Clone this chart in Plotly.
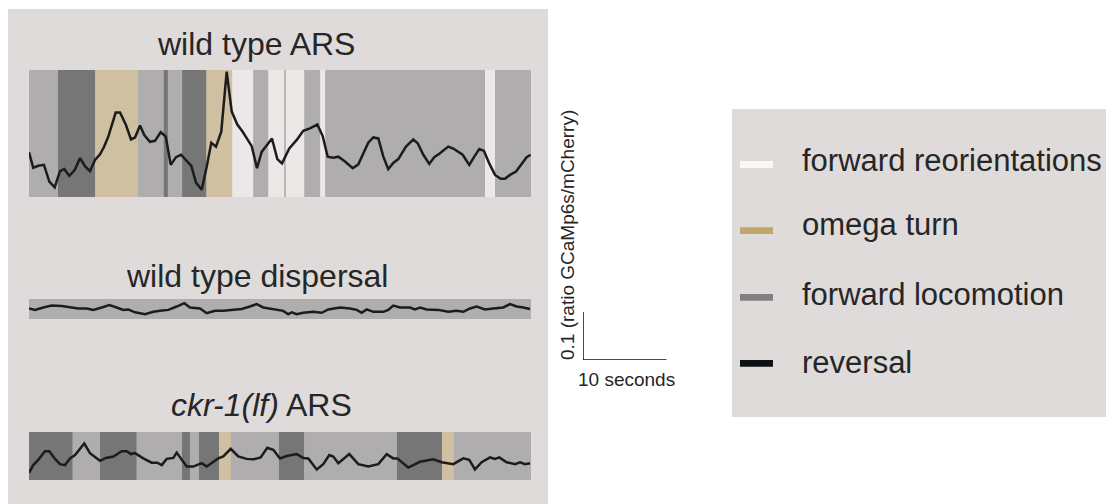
import plotly.graph_objects as go

# ---------------------------------------------------------------- data
# time in seconds, signal as change in GCaMP6s/mCherry ratio
wt_ars_t = [0.00, 0.51, 1.11, 1.79, 2.43, 3.07, 3.70, 4.22, 4.82, 5.46, 6.10, 6.73, 7.29, 7.89,
            8.49, 8.96, 9.48, 10.36, 10.88, 11.59, 12.19, 12.67, 13.27, 13.78, 14.46, 15.06,
            15.74, 16.34, 16.94, 17.57, 18.17, 18.85, 19.40, 19.96, 20.64, 21.24, 21.79, 22.35,
            22.98, 23.63, 24.23, 24.90, 25.54, 26.62, 27.25, 27.81, 29.04, 29.68, 30.24, 31.11,
            32.00, 32.78, 33.58, 34.46, 35.10, 35.70, 36.37, 36.97, 37.77, 38.69, 39.36, 40.55,
            41.15, 41.75, 42.35, 42.94, 43.54, 44.14, 45.06, 45.93, 46.46, 47.13, 47.84, 48.44,
            49.04, 50.11, 50.71, 51.83, 52.62, 53.22, 53.82, 54.38, 55.01, 55.70, 56.38, 56.89,
            57.49, 58.21, 58.89, 59.48, 59.96]
wt_ars_ratio = [0.093, 0.061, 0.065, 0.067, 0.032, 0.020, 0.054, 0.058, 0.044, 0.056, 0.081, 0.063,
                0.054, 0.077, 0.089, 0.104, 0.126, 0.176, 0.176, 0.150, 0.120, 0.124, 0.149, 0.129,
                0.115, 0.117, 0.135, 0.126, 0.067, 0.083, 0.088, 0.074, 0.065, 0.030, 0.015, 0.063,
                0.113, 0.105, 0.136, 0.261, 0.178, 0.151, 0.136, 0.106, 0.060, 0.094, 0.122, 0.079,
                0.070, 0.101, 0.119, 0.138, 0.143, 0.151, 0.127, 0.084, 0.082, 0.084, 0.074, 0.060,
                0.068, 0.113, 0.124, 0.122, 0.084, 0.058, 0.071, 0.079, 0.105, 0.120, 0.112, 0.088,
                0.069, 0.083, 0.090, 0.105, 0.101, 0.088, 0.067, 0.084, 0.100, 0.096, 0.070, 0.046,
                0.038, 0.038, 0.046, 0.053, 0.069, 0.083, 0.088]

wt_disp_t = [0.00, 0.72, 1.71, 2.71, 3.91, 4.90, 5.89, 6.90, 7.69, 8.69, 9.60, 10.48, 11.27, 11.87,
             12.67, 13.86, 14.86, 15.66, 16.65, 17.65, 18.56, 19.24, 20.44, 21.24, 22.23, 23.22,
             24.42, 25.42, 26.41, 27.21, 28.00, 29.20, 30.39, 30.99, 31.40, 31.99, 32.78, 33.98,
             34.98, 35.77, 37.17, 38.37, 39.17, 39.76, 40.36, 41.15, 42.35, 42.94, 43.54, 44.34,
             45.54, 46.13, 46.73, 47.53, 48.92, 50.11, 51.12, 51.91, 52.71, 53.51, 54.50, 55.49,
             56.69, 57.49, 58.29, 59.08, 59.88]
wt_disp_ratio = [0.022, 0.019, 0.024, 0.028, 0.027, 0.024, 0.022, 0.022, 0.019, 0.024, 0.029, 0.024,
                 0.019, 0.020, 0.014, 0.010, 0.015, 0.017, 0.019, 0.026, 0.033, 0.024, 0.022, 0.012,
                 0.017, 0.017, 0.019, 0.021, 0.026, 0.031, 0.024, 0.020, 0.017, 0.010, 0.014, 0.010,
                 0.013, 0.015, 0.013, 0.020, 0.024, 0.022, 0.019, 0.013, 0.020, 0.015, 0.015, 0.019,
                 0.028, 0.024, 0.024, 0.020, 0.024, 0.020, 0.019, 0.015, 0.017, 0.015, 0.022, 0.026,
                 0.020, 0.022, 0.024, 0.031, 0.026, 0.024, 0.021]

ckr_t = [0.00, 0.51, 1.11, 1.91, 2.43, 3.11, 3.70, 4.30, 4.90, 5.50, 6.61, 7.29, 8.49, 9.20, 10.08,
         11.08, 11.68, 12.19, 12.67, 13.66, 14.66, 15.33, 15.86, 16.46, 17.25, 17.65, 18.85, 19.64,
         20.64, 21.24, 22.62, 23.22, 24.11, 25.01, 26.02, 26.81, 27.69, 28.48, 29.20, 30.00, 30.80,
         32.00, 32.78, 33.38, 34.39, 35.17, 35.89, 36.37, 36.97, 38.28, 39.36, 40.55, 41.75, 42.75,
         43.54, 44.02, 45.33, 46.73, 48.32, 49.32, 50.71, 51.91, 52.62, 53.30, 54.10, 55.10, 55.70,
         56.21, 57.09, 58.09, 58.69, 59.28, 59.88]
ckr_ratio = [0.015, 0.031, 0.042, 0.060, 0.060, 0.044, 0.033, 0.031, 0.045, 0.052, 0.076, 0.056,
             0.040, 0.046, 0.049, 0.060, 0.060, 0.054, 0.056, 0.045, 0.036, 0.036, 0.031, 0.044,
             0.046, 0.057, 0.028, 0.028, 0.035, 0.028, 0.045, 0.049, 0.065, 0.049, 0.044, 0.043,
             0.047, 0.067, 0.063, 0.045, 0.050, 0.054, 0.046, 0.045, 0.022, 0.033, 0.052, 0.049,
             0.035, 0.054, 0.033, 0.028, 0.033, 0.054, 0.045, 0.045, 0.026, 0.038, 0.043, 0.037,
             0.033, 0.045, 0.042, 0.022, 0.037, 0.047, 0.044, 0.047, 0.037, 0.033, 0.037, 0.033,
             0.035]

# behavioural state epochs: boundaries (s) and the state of each epoch
wt_ars_bounds = [0, 3.47, 7.9, 13.0, 16.1, 16.6, 18.3, 21.2, 24.3, 26.8, 28.6, 30.5, 30.7, 32.9,
                 34.8, 35.4, 54.5, 55.7, 60]
wt_ars_states = ["fwd", "rev", "omega", "fwd", "rev", "fwd", "rev", "omega", "reori", "fwd",
                 "reori", "fwd", "reori", "fwd", "reori", "fwd", "reori", "fwd"]

wt_disp_bounds = [0, 60]
wt_disp_states = ["fwd"]

ckr_bounds = [0, 5.22, 8.49, 12.87, 18.29, 19.24, 20.32, 22.71, 24.14, 29.88, 32.87, 43.98,
              49.36, 50.79, 60]
ckr_states = ["rev", "fwd", "rev", "fwd", "rev", "fwd", "rev", "omega", "fwd", "rev", "fwd",
              "rev", "omega", "fwd"]

state_keys = ["reori", "omega", "fwd", "rev"]
state_labels = ["forward reorientations", "omega turn", "forward locomotion", "reversal"]
state_colors = ["#fcf6f6", "#c2a56a", "#808080", "#0e1113"]

panel_titles = ["wild type ARS", "wild type dispersal", "<i>ckr-1(lf)</i> ARS"]

scale_seconds = 10
scale_ratio = 0.1

# ---------------------------------------------------------------- layout helpers
W, H = 1107, 504
FONT = "Liberation Sans, Arial, Helvetica, sans-serif"
TEXT = "#262626"
PANEL = "#dedbda"


def px_x(p):
    return p / W


def px_y(p):
    return 1 - p / H


color_of = dict(zip(state_keys, state_colors))

# strip geometry in pixels (left, right, top, bottom); 60 s across every strip
X_LEFT, X_RIGHT = 29, 531
strips = [
    dict(t=wt_ars_t, r=wt_ars_ratio, b=wt_ars_bounds, s=wt_ars_states, top=70, bot=197),
    dict(t=wt_disp_t, r=wt_disp_ratio, b=wt_disp_bounds, s=wt_disp_states, top=299, bot=319),
    dict(t=ckr_t, r=ckr_ratio, b=ckr_bounds, s=ckr_states, top=432, bot=480),
]
T_MAX = 60.0
PX_PER_S = (X_RIGHT - X_LEFT) / T_MAX
PX_PER_RATIO = 480.0  # 0.1 ratio units = 48 px

fig = go.Figure()
shapes = [dict(type="rect", xref="paper", yref="paper", x0=px_x(8), x1=px_x(548),
               y0=0, y1=px_y(9), fillcolor=PANEL, line_width=0, layer="below")]
annotations = []

for i, st in enumerate(strips, start=1):
    xa = "x" if i == 1 else f"x{i}"
    ya = "y" if i == 1 else f"y{i}"
    span = (st["bot"] - st["top"]) / PX_PER_RATIO
    fig.add_trace(go.Scatter(x=st["t"], y=st["r"], mode="lines", xaxis=xa, yaxis=ya,
                             line=dict(color="#1c1c1c", width=2.5), showlegend=False,
                             hoverinfo="skip"))
    fig.layout[f"xaxis{'' if i == 1 else i}"] = dict(
        domain=[px_x(X_LEFT), px_x(X_RIGHT)], range=[0, T_MAX], visible=False,
        anchor=ya, fixedrange=True)
    fig.layout[f"yaxis{'' if i == 1 else i}"] = dict(
        domain=[px_y(st["bot"]), px_y(st["top"])], range=[0, span], visible=False,
        anchor=xa, fixedrange=True)
    for k, state in enumerate(st["s"]):
        shapes.append(dict(type="rect", xref=xa, yref=f"{ya} domain",
                           x0=st["b"][k], x1=st["b"][k + 1], y0=0, y1=1,
                           fillcolor=color_of[state], opacity=0.5, line_width=0,
                           layer="below"))

# scale bar on its own axes, same px-per-unit as the strips
sb_x0, sb_y1 = 583, 360
fig.add_trace(go.Scatter(x=[0, 0, scale_seconds], y=[scale_ratio, 0, 0], mode="lines",
                         xaxis="x4", yaxis="y4", line=dict(color="#111111", width=1.5),
                         showlegend=False, hoverinfo="skip", cliponaxis=False))
fig.layout.xaxis4 = dict(domain=[px_x(sb_x0), px_x(sb_x0 + scale_seconds * PX_PER_S)],
                         range=[0, scale_seconds], visible=False, anchor="y4", fixedrange=True)
fig.layout.yaxis4 = dict(domain=[px_y(sb_y1), px_y(sb_y1 - scale_ratio * PX_PER_RATIO)],
                         range=[0, scale_ratio], visible=False, anchor="x4", fixedrange=True)

annotations.append(dict(text=f"{scale_seconds} seconds", xref="paper", yref="paper",
                        x=px_x(626.5), y=px_y(379), xanchor="center", yanchor="middle",
                        showarrow=False, font=dict(family=FONT, size=19, color=TEXT)))
annotations.append(dict(text=f"{scale_ratio} (ratio GCaMp6s/mCherry)", xref="paper",
                        yref="paper", x=px_x(567), y=px_y(235), xanchor="center",
                        yanchor="middle", textangle=-90, showarrow=False,
                        font=dict(family=FONT, size=19, color=TEXT)))

# panel titles
for title, yc, xc in zip(panel_titles, [44, 275.5, 405], [255.5, 257, 261]):
    annotations.append(dict(text=title, xref="paper", yref="paper", x=px_x(xc), y=px_y(yc),
                            xanchor="center", yanchor="middle", showarrow=False,
                            font=dict(family=FONT, size=32, color=TEXT)))

# behaviour key
shapes.append(dict(type="rect", xref="paper", yref="paper", x0=px_x(732), x1=px_x(1106),
                   y0=px_y(417), y1=px_y(109), fillcolor=PANEL, line_width=0, layer="below"))
for label, col, ys, yt in zip(state_labels, state_colors, [164.5, 230.7, 297.3, 363.3],
                              [160, 225, 294, 362]):
    shapes.append(dict(type="rect", xref="paper", yref="paper", x0=px_x(740), x1=px_x(773),
                       y0=px_y(ys + 3.4), y1=px_y(ys - 3.4), fillcolor=col, line_width=0))
    annotations.append(dict(text=label, xref="paper", yref="paper", x=px_x(800), y=px_y(yt),
                            xanchor="left", yanchor="middle", showarrow=False,
                            font=dict(family=FONT, size=31, color=TEXT)))

fig.update_layout(width=W, height=H, margin=dict(l=0, r=0, t=0, b=0),
                  paper_bgcolor="white", plot_bgcolor="rgba(0,0,0,0)",
                  shapes=shapes, annotations=annotations, showlegend=False)

fig.write_html("out.html", config=dict(displayModeBar=False))
